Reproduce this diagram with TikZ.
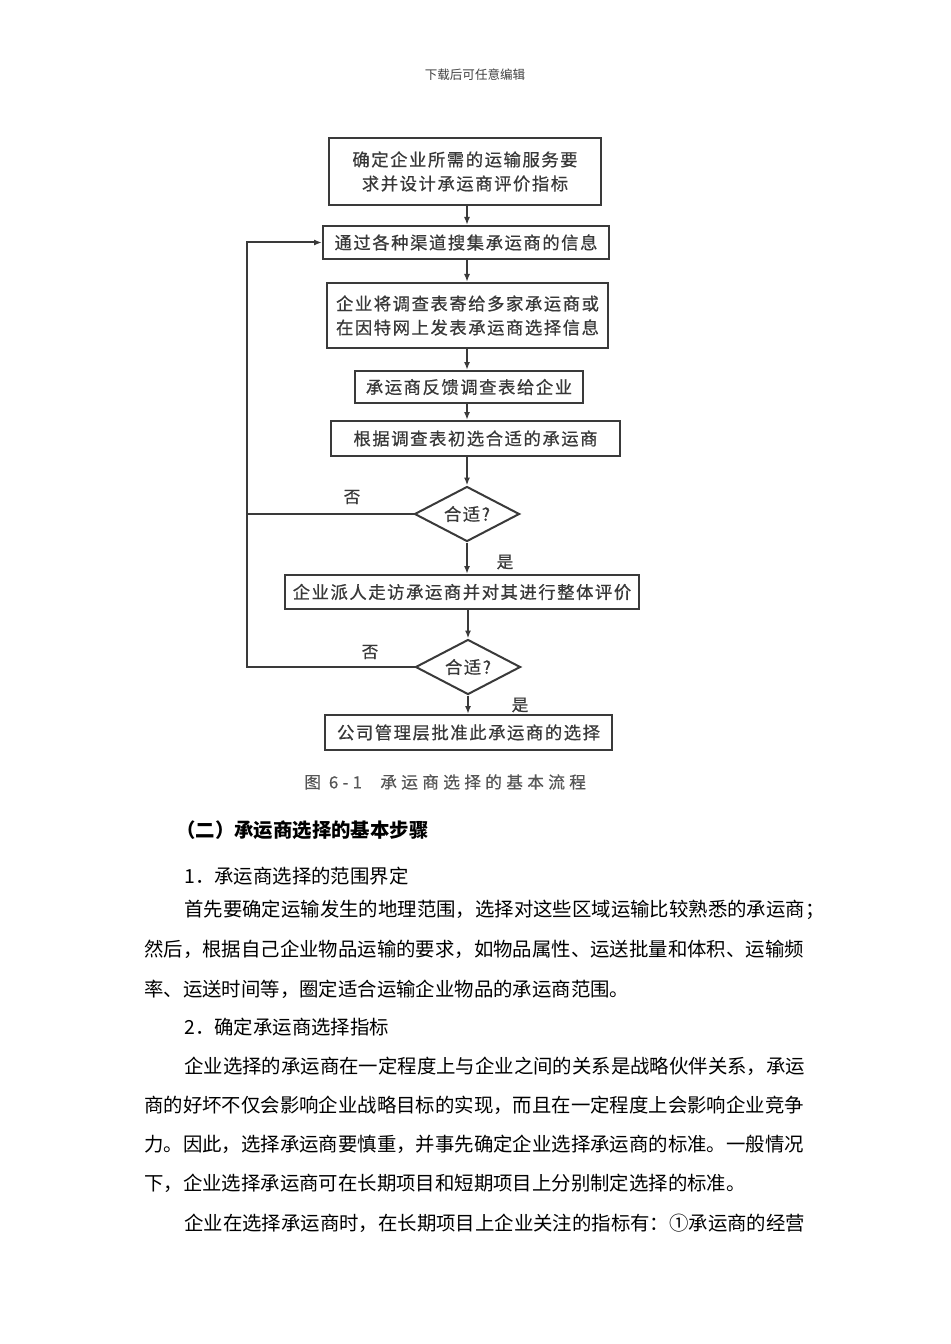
\documentclass[tikz,border=0pt]{standalone}
\usepackage{fontspec}
\setmainfont{Noto Sans CJK SC}
\newfontfamily\flowfont[LetterSpace=9,FakeBold=0.6]{Noto Sans CJK SC}
\newfontfamily\capfont[LetterSpace=26,FakeBold=0.4]{Noto Sans CJK SC}
\usetikzlibrary{shapes.geometric,arrows.meta}
\definecolor{ink}{HTML}{383838}
\definecolor{linec}{HTML}{3A3A3A}
\begin{document}
\begin{tikzpicture}[x=0.75pt,y=-0.75pt,
  box/.style={draw=linec,line width=1.5pt,inner sep=0pt,align=center,text=ink,
    font=\flowfont\fontsize{13pt}{18pt}\selectfont},
  dia/.style={diamond,aspect=2,draw=linec,line width=1.5pt,inner sep=0pt,text=ink,
    minimum width=78.75pt,minimum height=41.25pt,
    font=\flowfont\fontsize{13pt}{13pt}\selectfont},
  arr/.style={draw=linec,line width=1.5pt,-{Latex[length=6pt,width=4.5pt]}},
  ln/.style={draw=linec,line width=1.5pt},
  lbl/.style={text=ink,inner sep=0pt,font=\flowfont\fontsize{12.5pt}{12.5pt}\selectfont},
  body/.style={anchor=west,inner sep=0pt,font=\fontsize{14.55pt}{14.55pt}\selectfont},
]
\fill[white] (0,0) rectangle (950,1344);
\useasboundingbox (0,0) rectangle (950,1344);

% header
\node[inner sep=0pt,text=black!75,font=\fontsize{9.4pt}{9.4pt}\selectfont] (hdr) at (475,75) {下载后可任意编辑};

% flowchart
\node[box,minimum width=204pt,minimum height=50.25pt] (b1) at (465,171.5)
  {确定企业所需的运输服务要\\求并设计承运商评价指标};
\node[box,minimum width=214.5pt,minimum height=24.75pt] (b2) at (466,242.5)
  {通过各种渠道搜集承运商的信息};
\node[box,minimum width=210.75pt,minimum height=48.75pt] (b3) at (467.5,315.5)
  {企业将调查表寄给多家承运商或\\在因特网上发表承运商选择信息};
\node[box,minimum width=171pt,minimum height=24pt] (b4) at (469,387)
  {承运商反馈调查表给企业};
\node[box,minimum width=216.75pt,minimum height=26.25pt] (b5) at (475.5,438.5)
  {根据调查表初选合适的承运商};
\node[dia] (d1) at (467,514) {合适?};
\node[box,minimum width=265.5pt,minimum height=25.5pt] (b6) at (462,592)
  {企业派人走访承运商并对其进行整体评价};
\node[dia] (d2) at (468,667) {合适?};
\node[box,minimum width=215.25pt,minimum height=26.25pt] (b7) at (468.5,732.5)
  {公司管理层批准此承运商的选择};

\coordinate (lx) at (247,243);

\draw[arr] (b1.south -| d1.center) -- (b2.north -| d1.center);
\draw[arr] (b2.south -| d1.center) -- (b3.north -| d1.center);
\draw[arr] (b3.south -| d1.center) -- (b4.north -| d1.center);
\draw[arr] (b4.south -| d1.center) -- (b5.north -| d1.center);
\draw[arr] (b5.south -| d1.center) -- (d1.north);
\draw[arr] (d1.south) -- (b6.north -| d1.center);
\draw[arr] (b6.south -| d2.center) -- (d2.north);
\draw[arr] (d2.south) -- (b7.north -| d2.center);

\draw[ln] (d1.west) -- (d1.west -| lx);
\draw[arr] (d2.west) -- (d2.west -| lx) |- (b2.west);

\node[lbl] (no1) at (352,497) {否};
\node[lbl] (yes1) at (505,562) {是};
\node[lbl] (no2) at (370,652) {否};
\node[lbl] (yes2) at (520,705) {是};

\node[anchor=west,inner sep=0pt,text=ink!85,font=\capfont\fontsize{12.5pt}{12.5pt}\selectfont] (cap) at (304,782)
  {图 6-1\hspace{1.1em}承运商选择的基本流程};

% body text
\node[body,font=\bfseries\fontsize{14.55pt}{14.55pt}\selectfont] (h2) at (176,830) {（二）承运商选择的基本步骤};
\node[body] (t1) at (184,876) {1．承运商选择的范围界定};
\node[body] (t2) at (184,910) {首先要确定运输发生的地理范围，选择对这些区域运输比较熟悉的承运商；};
\node[body] (t3) at (144,949) {然后，根据自己企业物品运输的要求，如物品属性、运送批量和体积、运输频};
\node[body] (t4) at (144,989) {率、运送时间等，圈定适合运输企业物品的承运商范围。};
\node[body] (t5) at (184,1027) {2．确定承运商选择指标};
\node[body] (t6) at (184,1066) {企业选择的承运商在一定程度上与企业之间的关系是战略伙伴关系，承运};
\node[body] (t7) at (144,1105) {商的好坏不仅会影响企业战略目标的实现，而且在一定程度上会影响企业竞争};
\node[body] (t8) at (144,1144) {力。因此，选择承运商要慎重，并事先确定企业选择承运商的标准。一般情况};
\node[body] (t9) at (144,1183) {下，企业选择承运商可在长期项目和短期项目上分别制定选择的标准。};
\node[body] (t10) at (184,1223) {企业在选择承运商时，在长期项目上企业关注的指标有：①承运商的经营};
\end{tikzpicture}
\end{document}
